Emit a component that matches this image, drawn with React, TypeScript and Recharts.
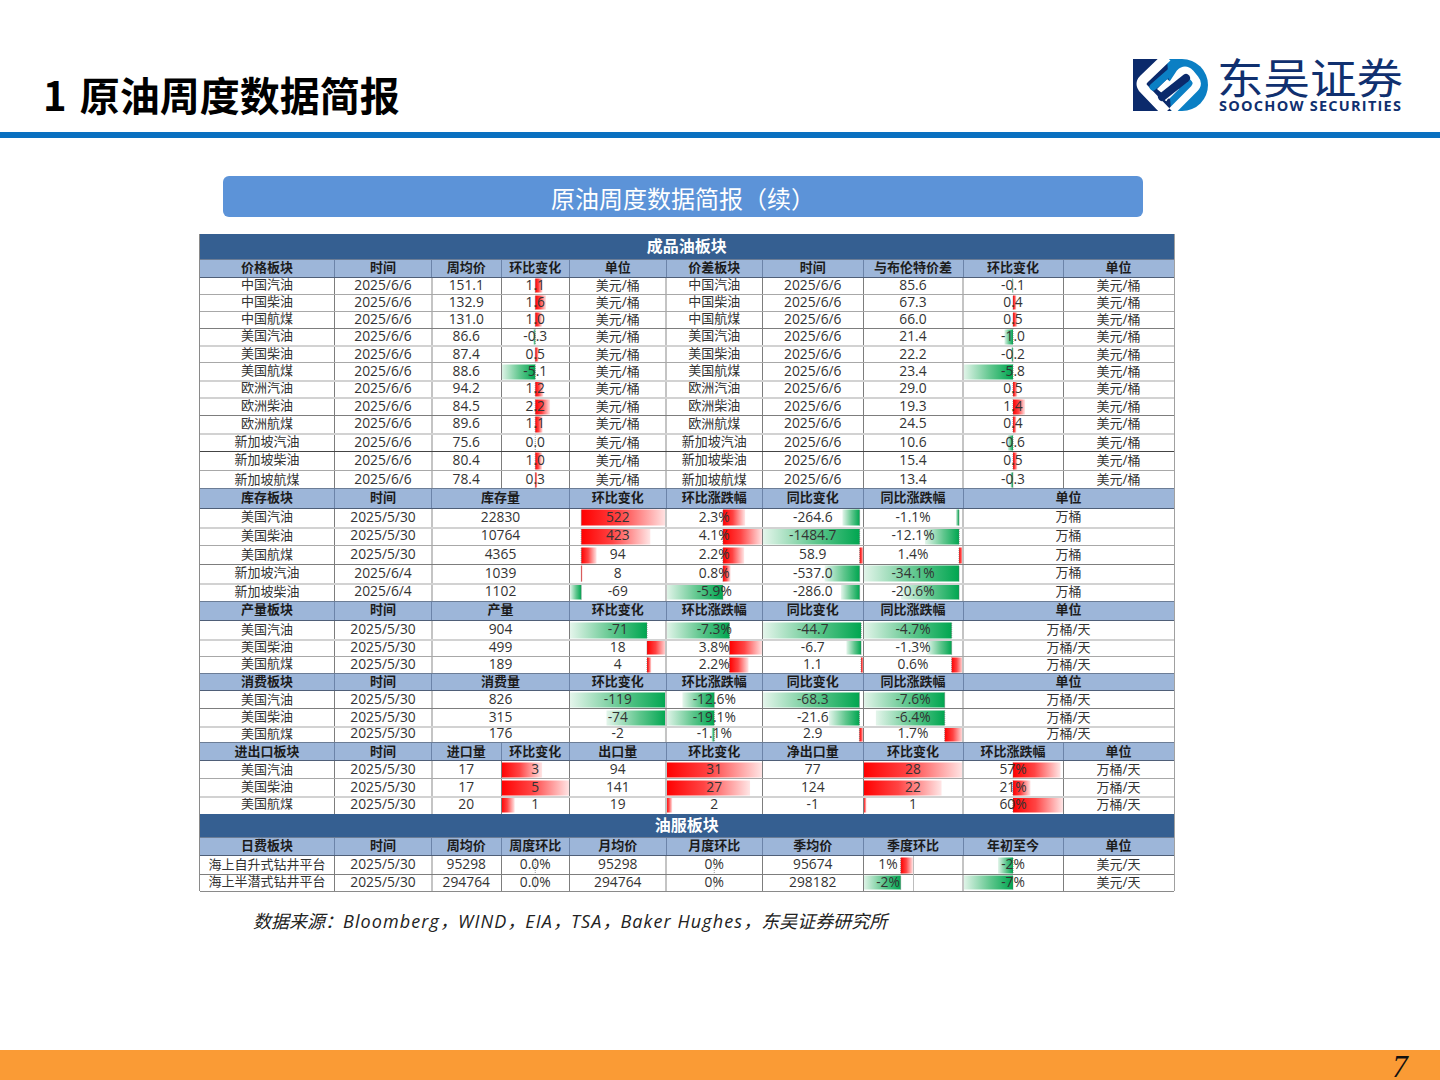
import React from 'react';
import { BarChart, Bar, XAxis, YAxis, ReferenceLine } from 'recharts';

// ---- data ----
const DATE_W = '2025/6/6';
const DATE_M = '2025/5/30';
const DATE_S = '2025/6/4';

const priceNames = ['中国汽油', '中国柴油', '中国航煤', '美国汽油', '美国柴油', '美国航煤', '欧洲汽油', '欧洲柴油', '欧洲航煤', '新加坡汽油', '新加坡柴油', '新加坡航煤'];
const priceWeekly = [151.1, 132.9, 131.0, 86.6, 87.4, 88.6, 94.2, 84.5, 89.6, 75.6, 80.4, 78.4];
const priceChange = [1.1, 1.6, 1.0, -0.3, 0.5, -5.1, 1.2, 2.2, 1.1, 0.0, 1.0, 0.3];
const spreadBrent = [85.6, 67.3, 66.0, 21.4, 22.2, 23.4, 29.0, 19.3, 24.5, 10.6, 15.4, 13.4];
const spreadChange = [-0.1, 0.4, 0.5, -1.0, -0.2, -5.8, 0.5, 1.4, 0.4, -0.6, 0.5, -0.3];

const stockNames = ['美国汽油', '美国柴油', '美国航煤', '新加坡汽油', '新加坡柴油'];
const stockDates = [DATE_M, DATE_M, DATE_M, DATE_S, DATE_S];
const stockLevel = [22830, 10764, 4365, 1039, 1102];
const stockChange = [522, 423, 94, 8, -69];
const stockChangePct = [2.3, 4.1, 2.2, 0.8, -5.9];
const stockYoy = [-264.6, -1484.7, 58.9, -537.0, -286.0];
const stockYoyPct = [-1.1, -12.1, 1.4, -34.1, -20.6];

const usNames = ['美国汽油', '美国柴油', '美国航煤'];
const usDates = [DATE_M, DATE_M, DATE_M];
const outputLevel = [904, 499, 189];
const outputChange = [-71, 18, 4];
const outputChangePct = [-7.3, 3.8, 2.2];
const outputYoy = [-44.7, -6.7, 1.1];
const outputYoyPct = [-4.7, -1.3, 0.6];

const demandLevel = [826, 315, 176];
const demandChange = [-119, -74, -2];
const demandChangePct = [-12.6, -19.1, -1.1];
const demandYoy = [-68.3, -21.6, 2.9];
const demandYoyPct = [-7.6, -6.4, 1.7];

const importLevel = [17, 17, 20];
const importChange = [3, 5, 1];
const exportLevel = [94, 141, 19];
const exportChange = [31, 27, 2];
const netLevel = [77, 124, -1];
const netChange = [28, 22, 1];
const netChangePct = [57, 21, 60];

const rigNames = ['海上自升式钻井平台', '海上半潜式钻井平台'];
const rigDates = [DATE_M, DATE_M];
const rigWeek = [95298, 294764];
const rigWeekPct = [0, 0];
const rigMonth = [95298, 294764];
const rigMonthPct = [0, 0];
const rigQuarter = [95674, 298182];
const rigQuarterPct = [0.65, -2];
const rigQuarterLabels = ['1%', '-2%'];
const rigYtd = [-2.1, -7];
const rigYtdLabels = ['-2%', '-7%'];

const sourceLatin = ['Bloomberg', 'WIND', 'EIA', 'TSA', 'Baker Hughes'];

// ---- layout ----
const X = [199.5, 334.5, 431.5, 501, 569.5, 666, 762.5, 863, 963, 1063, 1174];
const FONT = '"Open Sans", "Noto Sans CJK SC", sans-serif';
const LD = '#7d7d7d';
const LM = '#a8a8a8';
const LL = '#d2d2d2';

const fix1 = (v: number) => v.toFixed(1);
const pct1 = (v: number) => `${v.toFixed(1)}%`;
const pct0 = (v: number) => `${v}%`;
const str = (v: number | string) => String(v);

const same = (n: number, s: string) => Array.from({ length: n }, () => s);

type Col = {
  from: number;
  to: number;
  header: string;
  texts: string[];
  bar?: number[];
  domain?: [number, number];
  barTo?: number;
};

type Block = {
  headerTop: number;
  rows: number[];
  lines: string[];
  cols: Col[];
};

const col = (from: number, to: number, header: string, texts: string[]): Col => ({ from, to, header, texts });
const barCol = (from: number, to: number, header: string, values: number[], fmt: (v: number) => string, domain?: [number, number]): Col => ({
  from,
  to,
  header,
  texts: values.map(fmt),
  bar: values,
  domain: domain || [Math.min(0, ...values), Math.max(0, ...values)],
});

const blocks: Block[] = [
  {
    headerTop: 259,
    rows: [277, 294, 311, 328, 345.5, 362.5, 380, 397.5, 415, 433.5, 451, 470.5, 488.5],
    lines: [LM, LM, LD, LL, LM, LL, LL, LD, LL, '#444', LM, LM],
    cols: [
      col(0, 1, '价格板块', priceNames),
      col(1, 2, '时间', same(12, DATE_W)),
      col(2, 3, '周均价', priceWeekly.map(fix1)),
      barCol(3, 4, '环比变化', priceChange, fix1, [-5.1, 5.1]),
      col(4, 5, '单位', same(12, '美元/桶')),
      col(5, 6, '价差板块', priceNames),
      col(6, 7, '时间', same(12, DATE_W)),
      col(7, 8, '与布伦特价差', spreadBrent.map(fix1)),
      barCol(8, 9, '环比变化', spreadChange, fix1, [-5.8, 5.8]),
      col(9, 10, '单位', same(12, '美元/桶')),
    ],
  },
  {
    headerTop: 488.5,
    rows: [508, 527, 545.5, 564, 583, 601],
    lines: [LL, LM, LD, LL],
    cols: [
      col(0, 1, '库存板块', stockNames),
      col(1, 2, '时间', stockDates),
      col(2, 4, '库存量', stockLevel.map(str)),
      barCol(4, 5, '环比变化', stockChange, str),
      barCol(5, 6, '环比涨跌幅', stockChangePct, pct1),
      barCol(6, 7, '同比变化', stockYoy, fix1),
      barCol(7, 8, '同比涨跌幅', stockYoyPct, pct1),
      col(8, 10, '单位', same(5, '万桶')),
    ],
  },
  {
    headerTop: 601,
    rows: [620.5, 639, 656, 673.5],
    lines: [LL, LM],
    cols: [
      col(0, 1, '产量板块', usNames),
      col(1, 2, '时间', usDates),
      col(2, 4, '产量', outputLevel.map(str)),
      barCol(4, 5, '环比变化', outputChange, str),
      barCol(5, 6, '环比涨跌幅', outputChangePct, pct1),
      barCol(6, 7, '同比变化', outputYoy, fix1),
      barCol(7, 8, '同比涨跌幅', outputYoyPct, pct1),
      col(8, 10, '单位', same(3, '万桶/天')),
    ],
  },
  {
    headerTop: 673.5,
    rows: [690.5, 708.5, 726, 742.5],
    lines: [LD, LL],
    cols: [
      col(0, 1, '消费板块', usNames),
      col(1, 2, '时间', usDates),
      col(2, 4, '消费量', demandLevel.map(str)),
      barCol(4, 5, '环比变化', demandChange, str),
      barCol(5, 6, '环比涨跌幅', demandChangePct, pct1, [-19.1, 19.1]),
      barCol(6, 7, '同比变化', demandYoy, fix1),
      barCol(7, 8, '同比涨跌幅', demandYoyPct, pct1),
      col(8, 10, '单位', same(3, '万桶/天')),
    ],
  },
  {
    headerTop: 742.5,
    rows: [760.5, 778.5, 796, 813.5],
    lines: [LM, LL],
    cols: [
      col(0, 1, '进出口板块', usNames),
      col(1, 2, '时间', usDates),
      col(2, 3, '进口量', importLevel.map(str)),
      barCol(3, 4, '环比变化', importChange, str),
      col(4, 5, '出口量', exportLevel.map(str)),
      barCol(5, 6, '环比变化', exportChange, str),
      col(6, 7, '净出口量', netLevel.map(str)),
      barCol(7, 8, '环比变化', netChange, str),
      barCol(8, 9, '环比涨跌幅', netChangePct, pct0, [-60, 60]),
      col(9, 10, '单位', same(3, '万桶/天')),
    ],
  },
  {
    headerTop: 837,
    rows: [855.5, 874, 891],
    lines: [LD],
    cols: [
      col(0, 1, '日费板块', rigNames),
      col(1, 2, '时间', rigDates),
      col(2, 3, '周均价', rigWeek.map(str)),
      barCol(3, 4, '周度环比', rigWeekPct, pct1, [-1, 1]),
      col(4, 5, '月均价', rigMonth.map(str)),
      barCol(5, 6, '月度环比', rigMonthPct, pct0, [-1, 1]),
      col(6, 7, '季均价', rigQuarter.map(str)),
      { ...barCol(7, 8, '季度环比', rigQuarterPct, pct0), texts: rigQuarterLabels, barTo: 913 },
      { ...barCol(8, 9, '年初至今', rigYtd, pct0, [-7, 7]), texts: rigYtdLabels },
      col(9, 10, '单位', same(2, '美元/天')),
    ],
  },
];

const sections = [
  { title: '成品油板块', top: 234, bottom: 259 },
  { title: '油服板块', top: 813.5, bottom: 837 },
];

const box = (left: number, top: number, width: number, height: number, extra?: React.CSSProperties): React.CSSProperties => ({
  position: 'absolute',
  left,
  top,
  width,
  height,
  ...extra,
});

// CJK stays at 13px, digits run a bit larger like the sheet does
const MixedText = ({ text }: { text: string }) => (
  <>
    {text.split(/([\u4e00-\u9fff]+)/).filter(Boolean).map((part, i) => (
      <span key={i} style={{ fontSize: /[\u4e00-\u9fff]/.test(part) ? 13 : 13.8 }}>
        {part}
      </span>
    ))}
  </>
);

// one Excel-style data bar
const DataBar = ({ width, height, value, domain }: { width: number; height: number; value: number; domain: [number, number] }) => (
  <BarChart
    width={width}
    height={height}
    data={[{ name: 'v', v: value }]}
    layout="vertical"
    margin={{ top: 1.5, right: 0, bottom: 1.5, left: 0 }}
    barCategoryGap={0}
  >
    <XAxis type="number" hide domain={domain} allowDataOverflow />
    <YAxis type="category" hide dataKey="name" />
    <Bar dataKey="v" isAnimationActive={false} fill={value >= 0 ? 'url(#barUp)' : 'url(#barDown)'} />
    <ReferenceLine x={0} stroke="#6b6b6b" strokeDasharray="1 1" strokeWidth={0.7} />
  </BarChart>
);

const BlockView = ({ block }: { block: Block }) => {
  const { headerTop, rows, cols, lines } = block;
  const first = rows[0];
  const last = rows[rows.length - 1];
  return (
    <>
      <div style={box(X[0], headerTop, X[10] - X[0], first - headerTop, { background: '#9db6d9' })} />
      {cols.map((c, i) => {
        const thick = c.from === 2 || c.from === 5 || c.from === 8;
        return (
          <React.Fragment key={i}>
            <div
              style={box(X[c.from], headerTop - 1, X[c.to] - X[c.from], first - headerTop, {
                textAlign: 'center',
                lineHeight: `${first - headerTop}px`,
                fontWeight: 700,
                fontSize: 13,
                color: '#1c1c1c',
                whiteSpace: 'nowrap',
              })}
            >
              {c.header}
            </div>
            {c.texts.map((t, r) => {
              const left = X[c.from];
              const right = c.barTo || X[c.to];
              const w = right - left;
              const h = rows[r + 1] - rows[r];
              return (
                <div key={r} style={box(left, rows[r], w, h)}>
                  {c.bar && c.bar[r] !== undefined && (
                    <div style={{ position: 'absolute', left: 0, top: 0 }}>
                      <DataBar width={w} height={h} value={c.bar[r]} domain={c.domain as [number, number]} />
                    </div>
                  )}
                  <div
                    style={box(0, -1, w, h, {
                      textAlign: 'center',
                      lineHeight: `${h}px`,
                      fontSize: 13,
                      color: '#333',
                      whiteSpace: 'nowrap',
                    })}
                  >
                    <MixedText text={t} />
                  </div>
                </div>
              );
            })}
            {i > 0 && (
              <>
                <div style={box(X[c.from] - 0.5, headerTop, 1, first - headerTop, { background: '#6c84a9' })} />
                <div
                  style={box(X[c.from] - (thick ? 1 : 0.5), first, thick ? 2 : 1, last - first, {
                    background: thick ? '#c4c4c4' : LD,
                  })}
                />
              </>
            )}
          </React.Fragment>
        );
      })}
      {rows.slice(1, -1).map((y, i) => (
        <div key={i} style={box(X[0], y - 0.5, X[10] - X[0], lines[i] === LL ? 2 : 1, { background: lines[i] })} />
      ))}
      <div style={box(X[0], first - 0.5, X[10] - X[0], 1, { background: '#4f5f78' })} />
      <div style={box(X[0], headerTop - 0.5, X[10] - X[0], 1, { background: '#6c7d96' })} />
    </>
  );
};

const Logo = () => (
  <svg style={box(1133, 59, 76, 52)} viewBox="0 0 76 52">
    <path d="M0 0H36L44 52H0Z" fill="#0b2a6b" />
    <path d="M34 0H49A26 26 0 0 1 49 52H38Z" fill="#0b7fc4" />
    <path d="M34 -2L11 20Q6 25 11 30L33 53" stroke="#fff" strokeWidth="10" fill="none" />
    <path d="M30 40L47 14Q52 9 57 14L62 20Q66 25 61 30L39 52" stroke="#fff" strokeWidth="8" fill="none" />
    <path d="M24 30L36 40L46 30L34 20Z" fill="#fff" />
    <path d="M20 28L36 14L44 5" stroke="#0b7fc4" strokeWidth="7" strokeLinecap="round" fill="none" />
    <path d="M29 38L53 19" stroke="#0b2a6b" strokeWidth="8" strokeLinecap="round" fill="none" />
  </svg>
);

export default function App() {
  return (
    <div style={box(0, 0, 1440, 1080, { background: '#fff', fontFamily: FONT, overflow: 'hidden' })}>
      <svg width={0} height={0} style={{ position: 'absolute' }}>
        <defs>
          <linearGradient id="barUp" x1="0" y1="0" x2="1" y2="0">
            <stop offset="0" stopColor="#ff0000" />
            <stop offset="0.45" stopColor="#ff4444" />
            <stop offset="1" stopColor="#ffe6e6" />
          </linearGradient>
          <linearGradient id="barDown" x1="0" y1="0" x2="1" y2="0">
            <stop offset="0" stopColor="#e4f5eb" />
            <stop offset="0.55" stopColor="#5fc68d" />
            <stop offset="1" stopColor="#00a650" />
          </linearGradient>
        </defs>
      </svg>

      <div style={box(43, 65, 500, 58, { fontFamily: '"Noto Sans CJK SC"', fontSize: 40, fontWeight: 700, wordSpacing: 4, lineHeight: '58px', color: '#000', whiteSpace: 'nowrap' })}>1 原油周度数据简报</div>
      <div style={box(0, 132, 1440, 6, { background: '#0a70c0' })} />
      <Logo />
      <div style={box(1217, 56, 200, 40, { fontFamily: '"Noto Sans CJK SC"', fontSize: 46.5, lineHeight: '44px', color: '#10306f', whiteSpace: 'nowrap', fontWeight: 400, transform: 'scaleY(0.9)', transformOrigin: 'top left' })}>东吴证券</div>
      <div style={box(1219, 99, 200, 14, { fontFamily: '"Open Sans"', fontSize: 14.5, fontWeight: 700, letterSpacing: 1.25, lineHeight: '14px', color: '#10306f', whiteSpace: 'nowrap' })}>SOOCHOW SECURITIES</div>

      <div style={box(223, 176, 920, 41, { background: '#5c93d8', borderRadius: 6, color: '#fff', textAlign: 'center', lineHeight: '43px', fontSize: 24, fontFamily: '"Noto Sans CJK SC"' })}>原油周度数据简报（续）</div>

      {sections.map((s) => (
        <div
          key={s.title}
          style={box(X[0], s.top, X[10] - X[0], s.bottom - s.top, {
            background: '#355f91',
            color: '#fff',
            fontWeight: 700,
            fontSize: 16,
            textAlign: 'center',
            lineHeight: `${s.bottom - s.top - 1}px`,
          })}
        >
          {s.title}
        </div>
      ))}

      {blocks.map((b, i) => (
        <BlockView key={i} block={b} />
      ))}

      {/* extra cell edge inside 季度环比, table outline */}
      <div style={box(912.5, 855.5, 1, 35.5, { background: '#bdbdbd' })} />
      <div style={box(X[0] - 0.5, 234, 1, 657, { background: '#8a8a8a' })} />
      <div style={box(X[10] - 0.5, 234, 1, 657, { background: '#a0a0a0' })} />
      <div style={box(X[0], 890.5, X[10] - X[0], 1, { background: '#8a8a8a' })} />

      <div style={box(253, 907, 700, 28, { fontSize: 18, fontStyle: 'italic', lineHeight: '28px', color: '#222', whiteSpace: 'nowrap' })}>
        数据来源：
        {sourceLatin.map((s) => (
          <React.Fragment key={s}>
            <span style={{ letterSpacing: 1.1 }}>{s}</span>，
          </React.Fragment>
        ))}
        东吴证券研究所
      </div>

      <div style={box(0, 1050, 1440, 30, { background: '#fa9b35' })} />
      <div style={box(1380, 1050, 40, 30, { fontFamily: '"Liberation Serif"', fontSize: 31, fontStyle: 'italic', lineHeight: '34px', textAlign: 'center', color: '#111' })}>7</div>
    </div>
  );
}
